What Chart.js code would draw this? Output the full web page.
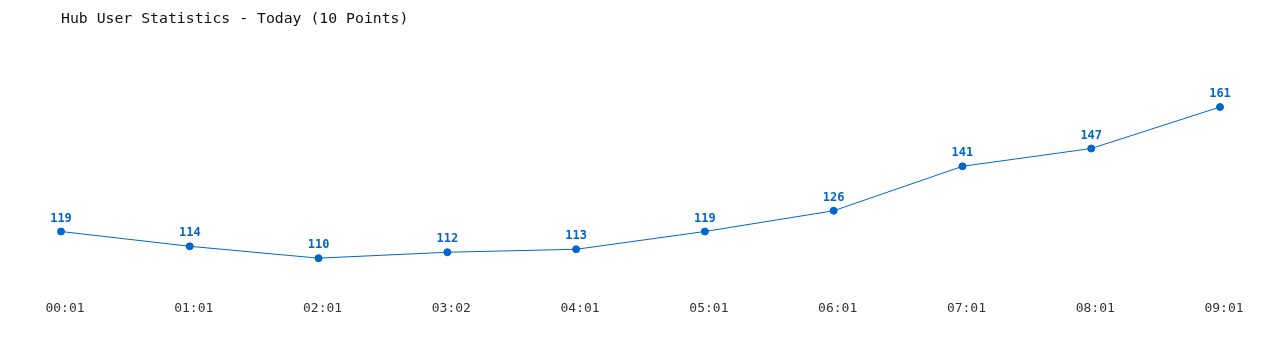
<!DOCTYPE html>
<html>
<head>
<meta charset="utf-8">
<script src="https://cdn.jsdelivr.net/npm/chart.js@4.4.0/dist/chart.umd.min.js"></script>
<style>
	html, body { margin: 0; padding: 0; background: #fff; }
</style>
</head>
<body>
<canvas id="chart" width="1280" height="350"></canvas>
<script>
const times = ['00:01', '01:01', '02:01', '03:02', '04:01', '05:01', '06:01', '07:01', '08:01', '09:01'];
const users = [119, 114, 110, 112, 113, 119, 126, 141, 147, 161];
const chartTitle = 'Hub User Statistics - Today (10 Points)';

const blue = '#0066cc';
const mono = '"DejaVu Sans Mono", "Liberation Mono", monospace';

// Draw the value above each point
const valueLabels = {
	id: 'valueLabels',
	afterDatasetsDraw(chart) {
		const ctx = chart.ctx;
		const meta = chart.getDatasetMeta(0);
		ctx.save();
		ctx.font = 'bold 12px ' + mono;
		ctx.fillStyle = blue;
		ctx.textAlign = 'center';
		ctx.textBaseline = 'middle';
		meta.data.forEach((pt, i) => {
			ctx.fillText(String(users[i]), pt.x, pt.y - 13);
		});
		ctx.restore();
	}
};

new Chart(document.getElementById('chart'), {
	type: 'line',
	data: {
		labels: times,
		datasets: [{
			label: 'Users',
			data: users,
			borderColor: blue,
			backgroundColor: blue,
			borderWidth: 1,
			pointRadius: 3.5,
			pointHoverRadius: 3.5,
			tension: 0
		}]
	},
	options: {
		responsive: false,
		animation: false,
		devicePixelRatio: 1,
		layout: {
			padding: {left: 61, right: 60, top: 0, bottom: 29}
		},
		plugins: {
			legend: {display: false},
			tooltip: {enabled: false},
			title: {
				display: true,
				text: chartTitle,
				align: 'start',
				color: '#111',
				font: {family: mono, size: 14.8, weight: 'normal', lineHeight: 1.2},
				padding: {top: 10, bottom: 52.6}
			}
		},
		scales: {
			x: {
				offset: false,
				grid: {display: false},
				border: {display: false},
				ticks: {
					color: '#333',
					font: {family: mono, size: 13},
					padding: 4.8,
					labelOffset: 4,
					maxRotation: 0,
					autoSkip: false
				}
			},
			y: {
				display: false,
				min: 100,
				max: 170
			}
		}
	},
	plugins: [valueLabels]
});
</script>
</body>
</html>
